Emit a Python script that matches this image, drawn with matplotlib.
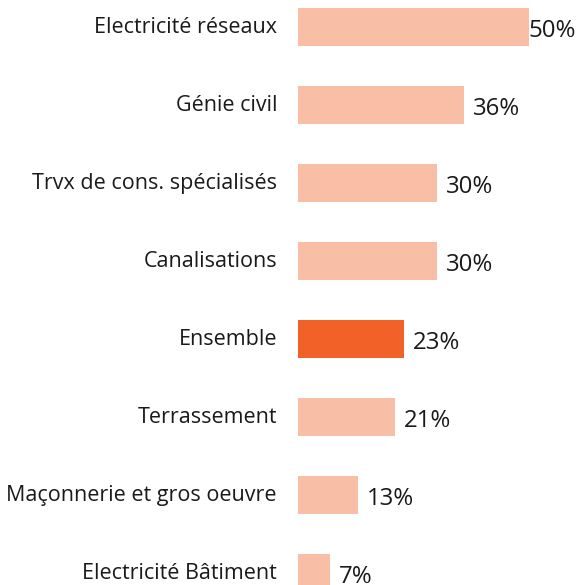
import matplotlib
matplotlib.use("Agg")
import matplotlib.pyplot as plt

categories = ["Electricité réseaux", "Génie civil", "Trvx de cons. spécialisés",
              "Canalisations", "Ensemble", "Terrassement",
              "Maçonnerie et gros oeuvre", "Electricité Bâtiment"]
values = [50, 36, 30, 30, 23, 21, 13, 7]
highlight = "Ensemble"

light = "#F9BFA6"
dark = "#F26127"

plt.rcParams['font.family'] = ['Open Sans', 'DejaVu Sans']

fig = plt.figure(figsize=(5.79, 5.85), dpi=100)
ax = fig.add_axes([298 / 579, 0, 281 / 579, 1])

px = 4.62  # pixels per percent
xmax = 281 / px
ax.set_xlim(0, xmax)
ax.set_ylim((585 - 27) / 78, -27 / 78)

ypos = list(range(len(categories)))
colors = [dark if c == highlight else light for c in categories]
ax.barh(ypos, values, height=0.49, color=colors)

for y, c, v in zip(ypos, categories, values):
    ax.text(-21 / px, y + 0.01, c, ha="right", va="center", fontsize=15.5,
            color="#1a1a1a", clip_on=False)
    x = v + 9 / px
    if x + 48 / px > xmax:
        # keep the label inside the picture
        ax.text(xmax - 3 / px, y + 0.05, f"{v}%", ha="right", va="center",
                fontsize=17.3, color="#1a1a1a", clip_on=False)
    else:
        ax.text(x, y + 0.05, f"{v}%", ha="left", va="center",
                fontsize=17.3, color="#1a1a1a", clip_on=False)

ax.axis("off")
fig.savefig("out.png", dpi=100)
